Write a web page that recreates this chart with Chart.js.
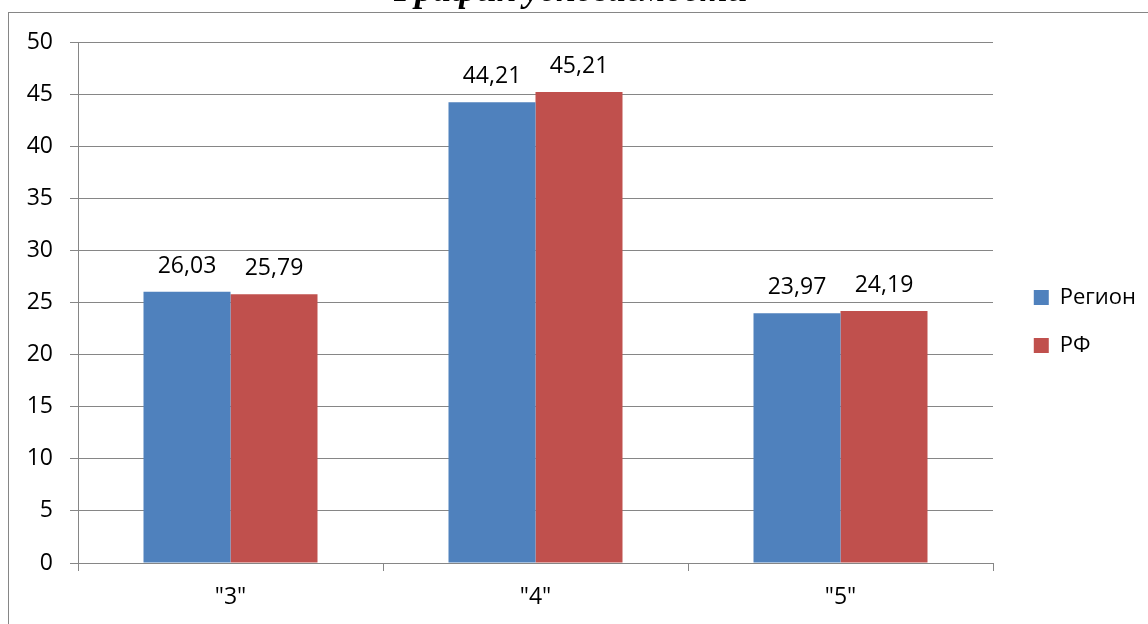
<!DOCTYPE html>
<html lang="ru">
<head>
<meta charset="utf-8">
<title>График успеваемости</title>
<script src="https://cdn.jsdelivr.net/npm/chart.js@4/dist/chart.umd.min.js"></script>
<style>
    html, body { margin: 0; padding: 0; background: #fff; overflow: hidden; width: 1148px; height: 624px; }
    #frame { position: absolute; left: 8px; top: 12px; width: 1300px; height: 800px; border: 1px solid #868686; }
    #chart { position: absolute; left: -4px; top: -40px; }
</style>
</head>
<body>
<div id="frame"></div>
<canvas id="chart" width="1150" height="723"></canvas>
<script>
// данные графика
const categories = ['"3"', '"4"', '"5"'];
const regionValues = [26.03, 44.21, 23.97];
const rfValues = [25.79, 45.21, 24.19];
const yTicks = [0, 5, 10, 15, 20, 25, 30, 35, 40, 45, 50];

const gridColor = '#868686';
const labelFont = { family: '"Open Sans", sans-serif', size: 23 };
const shiftX = 4; // холст сдвинут влево на 4px

// подписи значений над столбиками
const valueLabels = {
    id: 'valueLabels',
    afterDatasetsDraw(chart) {
        const ctx = chart.ctx;
        ctx.save();
        ctx.font = labelFont.size + 'px ' + labelFont.family;
        ctx.fillStyle = '#000';
        ctx.textAlign = 'center';
        ctx.textBaseline = 'alphabetic';
        chart.data.datasets.forEach((ds, i) => {
            chart.getDatasetMeta(i).data.forEach((bar, j) => {
                const text = ds.data[j].toFixed(2).replace('.', ',');
                ctx.fillText(text, bar.x, bar.y - 19);
            });
        });
        ctx.restore();
    }
};

const chart = new Chart(document.getElementById('chart').getContext('2d'), {
    type: 'bar',
    data: {
        labels: categories,
        datasets: [{
            label: 'Регион',
            data: regionValues,
            backgroundColor: '#4F81BD',
            categoryPercentage: 0.5705,
            barPercentage: 1
        }, {
            label: 'РФ',
            data: rfValues,
            backgroundColor: '#C0504D',
            categoryPercentage: 0.5705,
            barPercentage: 1
        }]
    },
    options: {
        responsive: false,
        animation: false,
        layout: { padding: 0 },
        plugins: {
            title: {
                display: true,
                text: 'График успеваемости',
                color: '#000',
                font: { family: '"Liberation Serif", serif', size: 36, weight: 'bold', style: 'italic', lineHeight: 1 },
                padding: { top: 14, bottom: 32 }
            },
            legend: {
                position: 'right',
                labels: {
                    color: '#000',
                    font: { family: labelFont.family, size: 22 },
                    boxWidth: 15,
                    boxHeight: 15,
                    padding: 26
                }
            },
            tooltip: { enabled: false }
        },
        scales: {
            x: {
                grid: { display: true, drawOnChartArea: false, color: gridColor, tickLength: 8 },
                border: { color: gridColor },
                ticks: { color: '#000', font: labelFont, padding: 13 },
                afterFit: (s) => { s.height = 120; }
            },
            y: {
                min: 0,
                max: 50,
                afterBuildTicks: (s) => { s.ticks = yTicks.map(v => ({ value: v })); },
                grid: { color: gridColor, tickLength: 8 },
                border: { color: gridColor },
                ticks: { color: '#000', font: labelFont, padding: 17 },
                afterFit: (s) => { s.width = 78 + shiftX; }
            },
            // пустая ось справа: держит правый край области графика на месте
            gap: {
                type: 'linear',
                position: 'right',
                grid: { display: false },
                border: { display: false },
                ticks: { display: false },
                afterFit: (s) => {
                    const c = s.chart;
                    s.width = Math.max(0, c.width - c.legend.width - (993 + shiftX));
                }
            }
        }
    },
    plugins: [valueLabels]
});
</script>
</body>
</html>
